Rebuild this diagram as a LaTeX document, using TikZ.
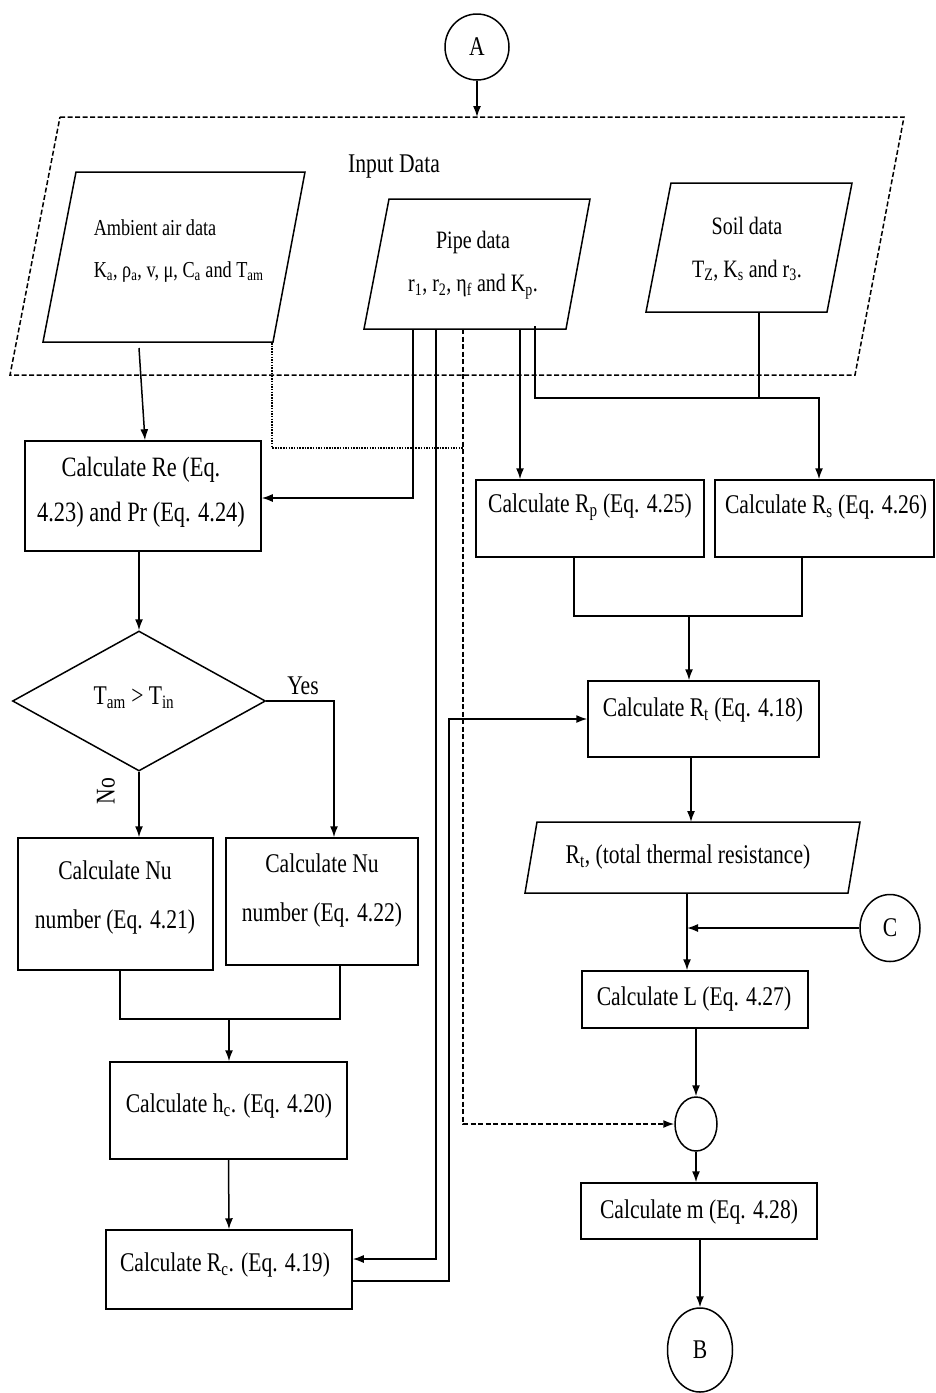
\documentclass[tikz,border=0pt]{standalone}
\usepackage{fontspec}
\setmainfont{Liberation Serif}[FakeStretch=0.8]
\usetikzlibrary{arrows.meta,shapes.geometric,calc}
\begin{document}
\begin{tikzpicture}[x=1pt,y=-1pt,line width=1.5pt,
  arr/.style={-{Latex[length=11pt,width=8pt]}},
  dasharr/.style={-{Latex[length=11pt,width=8pt]},dash pattern=on 5pt off 2.5pt},
  dotl/.style={line width=1.3pt,dash pattern=on 1.5pt off 1.2pt},
  bigdash/.style={line width=1.5pt,dash pattern=on 5pt off 2.5pt},
  box/.style={draw,rectangle,inner sep=0pt},
  conn/.style={draw,ellipse,inner sep=0pt,font=\fontsize{27}{30}\selectfont},
  txt/.style={inner sep=0pt,align=center,font=\fontsize{27}{48}\selectfont},
  small/.style={inner sep=0pt,align=center,font=\fontsize{25}{43}\selectfont}]
\useasboundingbox (0,0) rectangle (936,1393);

% connectors (circles)
\node[conn,minimum width=64pt,minimum height=66pt] (A) at (477,47) {A};
\node[conn,minimum width=60pt,minimum height=67pt] (C) at (890,928) {C};
\node[conn,minimum width=65pt,minimum height=84pt] (B) at (700,1350) {B};
\node[conn,minimum width=42pt,minimum height=54pt] (sc) at (696,1124) {};

% input data block
\coordinate (inT) at (477,117);
\draw[bigdash] (60,117) -- (904,117) -- (855,375) -- (10,375) -- cycle;
\node[txt] (inlbl) at (394,167) {Input Data};

\draw (76,172) -- (305,172) -- (273,342) -- (43,342) -- cycle;
\node[anchor=west,align=left,inner sep=0pt,font=\fontsize{22.8}{42}\selectfont] (ambt) at (93,251)
  {Ambient air data\\K\textsubscript{a}, ρ\textsubscript{a}, v, μ, C\textsubscript{a} and T\textsubscript{am}};

\draw (389,199) -- (590,199) -- (566,329) -- (364,329) -- cycle;
\node[small] (pipet) at (473,265) {Pipe data\\r\textsubscript{1}, r\textsubscript{2}, η\textsubscript{f} and K\textsubscript{p}.};

\draw (671,183) -- (852,183) -- (827,312) -- (646,312) -- cycle;
\node[small] (soilt) at (747,249) {Soil data\\T\textsubscript{Z}, K\textsubscript{s} and r\textsubscript{3}.};

% process boxes
\node[box,minimum width=236pt,minimum height=110pt] (re) at (143,496) {};
\node[txt,font=\fontsize{28}{45}\selectfont] (ret) at (141,492) {Calculate Re (Eq.\\4.23) and Pr (Eq. 4.24)};

\node[draw,diamond,minimum width=253pt,minimum height=140pt,inner sep=0pt] (dec) at (139,701) {};
\node[txt] (dect) at (134,698) {T\textsubscript{am} > T\textsubscript{in}};

\node[box,minimum width=195pt,minimum height=132pt] (nu1) at (115.5,904) {};
\node[txt,font=\fontsize{27}{49}\selectfont] (nu1t) at (115,897) {Calculate Nu\\number (Eq. 4.21)};
\node[box,minimum width=192pt,minimum height=127pt] (nu2) at (322,901.5) {};
\node[txt,font=\fontsize{27}{49}\selectfont] (nu2t) at (322,890) {Calculate Nu\\number (Eq. 4.22)};

\node[box,minimum width=237pt,minimum height=97pt] (hc) at (228.5,1110.5) {};
\node[txt] (hct) at (229,1106) {Calculate h\textsubscript{c}. (Eq. 4.20)};
\node[box,minimum width=246pt,minimum height=79pt] (rc) at (229,1269.5) {};
\node[txt] (rct) at (225,1265) {Calculate R\textsubscript{c}. (Eq. 4.19)};

\node[box,minimum width=228pt,minimum height=77pt] (rp) at (590,518.5) {};
\node[txt] (rpt) at (590,507) {Calculate R\textsubscript{p} (Eq. 4.25)};
\node[box,minimum width=219pt,minimum height=77pt] (rs) at (824.5,518.5) {};
\node[txt] (rst) at (826,507) {Calculate R\textsubscript{s} (Eq. 4.26)};

\node[box,minimum width=231pt,minimum height=76pt] (rt) at (703.5,719) {};
\node[txt] (rtt) at (703,710) {Calculate R\textsubscript{t} (Eq. 4.18)};

\coordinate (outT) at (691,822);
\coordinate (outB) at (687,893);
\draw (537,822) -- (860,822) -- (848,893) -- (525,893) -- cycle;
\node[txt] (outt) at (688,857) {R\textsubscript{t}, (total thermal resistance)};

\node[box,minimum width=226pt,minimum height=57pt] (L) at (695,999.5) {};
\node[txt] (Lt) at (694,999) {Calculate L (Eq. 4.27)};
\node[box,minimum width=236pt,minimum height=56pt] (m) at (699,1211) {};
\node[txt] (mt) at (699,1212) {Calculate m (Eq. 4.28)};

% labels
\node[txt] (yes) at (303,686) {Yes};
\node[txt,rotate=90] (no) at (106,791) {No};

% connection coordinates
\coordinate (ambo) at (139,348);
\coordinate (ambc) at (272,343);
\coordinate (p1) at (413,329);
\coordinate (p2) at (436,329);
\coordinate (p3) at (463,329);
\coordinate (p4) at (520,329);
\coordinate (p5) at (535,326);
\coordinate (dj) at (463,448);
\coordinate (sj) at (819,398);
\coordinate (so) at (759,312);
\coordinate (nuj) at (229,1018);
\coordinate (rj) at (689,616);

% connectors
\draw[arr] (A.south) -- (inT);
\draw[arr] (ambo) -- ($(re.north)+(2,0)$);
\draw[dotl] (ambc) |- (dj);
\draw[arr] (p1) |- ($(re.east)+(0,2)$);
\draw[arr] (p2) |- ($(rc.east)+(0,-10.5)$);
\draw[dasharr] (p3) |- (sc.west);
\draw[arr] (p4) -- (p4 |- rp.north);
\draw[arr] (p5) |- (sj) -- (sj |- rs.north);
\draw (so) -- (so |- sj);

\draw[arr] (re.south -| dec.north) -- (dec.north);
\draw[arr] (dec.south) -- (dec.south |- nu1.north);
\draw[arr] (dec.east) -| ($(nu2.north)+(12,0)$);
\draw ($(nu1.south)+(4.5,0)$) -- ++(0,48) -- ++(220,0) -- ($(nu2.south)+(18,0)$);
\draw[arr] (nuj) -- (nuj |- hc.north);
\draw[arr] (hc.south) -- (rc.north);
\draw[arr] ($(rc.east)+(0,11.5)$) -- ++(96,0) |- (rt.west);

\draw ($(rp.south)+(-16,0)$) -- ++(0,58) -- ++(228,0) -- ($(rs.south)+(-22.5,0)$);
\draw[arr] (rj) -- (rj |- rt.north);
\draw[arr] (rt.south -| outT) -- (outT);
\draw[arr] (outB) -- (outB |- L.north);
\draw[arr] (C.west) -- (C.west -| outB);
\draw[arr] (sc.north |- L.south) -- (sc.north);
\draw[arr] (sc.south) -- (sc.south |- m.north);
\draw[arr] (m.south -| B.north) -- (B.north);
\end{tikzpicture}
\end{document}
